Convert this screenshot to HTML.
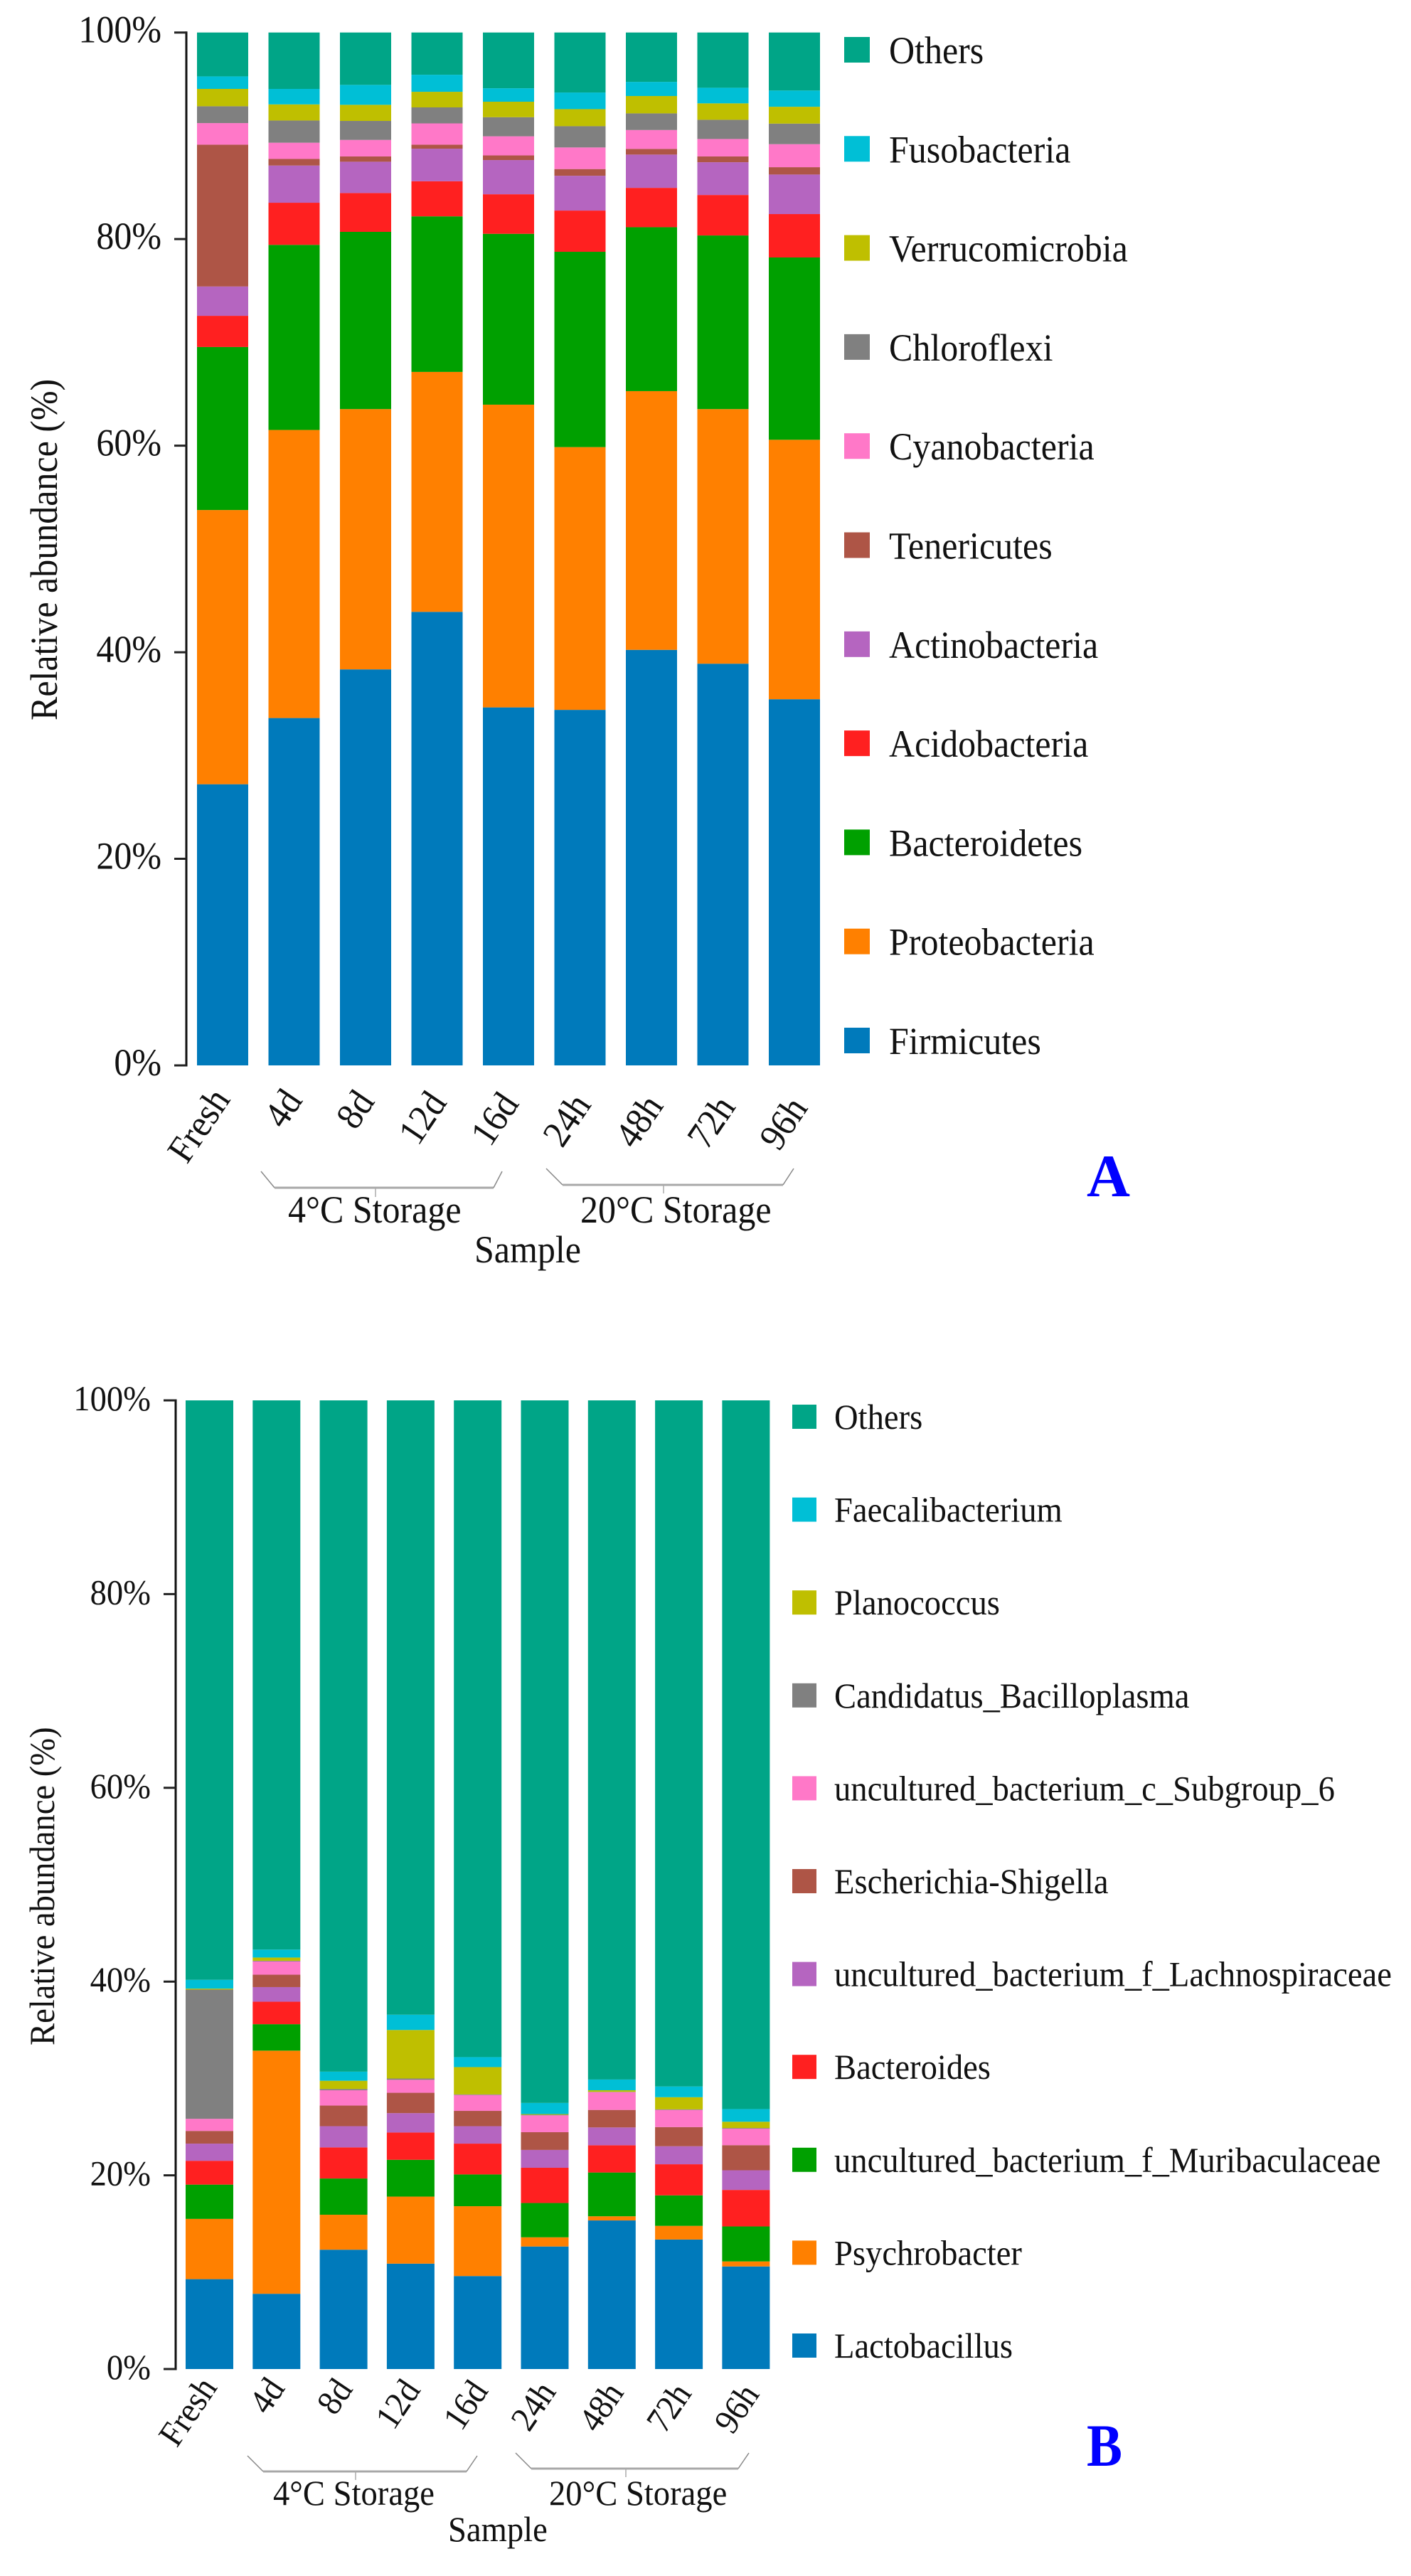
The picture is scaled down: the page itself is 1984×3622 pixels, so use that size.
<!DOCTYPE html>
<html lang="en">
<head>
<meta charset="utf-8">
<title>Relative abundance of bacterial phyla and genera</title>
<style>
html,body{margin:0;padding:0;background:#fff;}
svg{display:block;}
text{font-family:"Liberation Serif","Times New Roman",serif;fill:#111;}
</style>
</head>
<body>
<svg id="figure" xmlns="http://www.w3.org/2000/svg" width="1984" height="3622" viewBox="0 0 1984 3622"></svg>
<script>
const sampleLabels = ['Fresh', '4d', '8d', '12d', '16d', '24h', '48h', '72h', '96h'];
const yTickValues = [0, 20, 40, 60, 80, 100];
const yTickLabels = ['0%', '20%', '40%', '60%', '80%', '100%'];

/* Panel A: phylum-level abundance (%) */
const phylumNames = ['Firmicutes', 'Proteobacteria', 'Bacteroidetes', 'Acidobacteria', 'Actinobacteria', 'Tenericutes', 'Cyanobacteria', 'Chloroflexi', 'Verrucomicrobia', 'Fusobacteria', 'Others'];
const firmicutes = [27.22, 33.63, 38.34, 43.91, 34.66, 34.42, 40.23, 38.89, 35.45];
const proteobacteria = [26.55, 27.89, 25.20, 23.23, 29.31, 25.44, 25.05, 24.65, 25.12];
const bacteroidetes = [15.78, 17.92, 17.16, 15.06, 16.54, 18.91, 15.87, 16.81, 17.65];
const acidobacteria = [3.02, 4.08, 3.76, 3.40, 3.83, 3.99, 3.81, 3.92, 4.20];
const actinobacteria = [2.84, 3.60, 3.03, 3.15, 3.31, 3.37, 3.22, 3.17, 3.83];
const tenericutes = [13.73, 0.64, 0.51, 0.39, 0.45, 0.65, 0.55, 0.56, 0.71];
const cyanobacteria = [2.09, 1.57, 1.60, 2.06, 1.85, 2.09, 1.83, 1.69, 2.23];
const chloroflexi = [1.63, 2.15, 1.84, 1.55, 1.85, 2.06, 1.61, 1.86, 1.99];
const verrucomicrobia = [1.68, 1.56, 1.56, 1.51, 1.50, 1.65, 1.68, 1.59, 1.63];
const fusobacteria = [1.21, 1.50, 1.93, 1.65, 1.30, 1.61, 1.37, 1.51, 1.57];
const othersPhylum = [4.25, 5.46, 5.07, 4.09, 5.40, 5.81, 4.78, 5.35, 5.62];
const phylumSeries = [firmicutes, proteobacteria, bacteroidetes, acidobacteria, actinobacteria, tenericutes, cyanobacteria, chloroflexi, verrucomicrobia, fusobacteria, othersPhylum];

/* Panel B: genus-level abundance (%) */
const genusNames = ['Lactobacillus', 'Psychrobacter', 'uncultured_bacterium_f_Muribaculaceae', 'Bacteroides', 'uncultured_bacterium_f_Lachnospiraceae', 'Escherichia-Shigella', 'uncultured_bacterium_c_Subgroup_6', 'Candidatus_Bacilloplasma', 'Planococcus', 'Faecalibacterium', 'Others'];
const lactobacillus = [9.28, 7.77, 12.32, 10.88, 9.60, 12.65, 15.34, 13.37, 10.59];
const psychrobacter = [6.22, 25.10, 3.61, 6.92, 7.21, 0.95, 0.43, 1.41, 0.52];
const muribaculaceae = [3.54, 2.73, 3.74, 3.80, 3.28, 3.54, 4.52, 3.15, 3.61];
const bacteroides = [2.46, 2.32, 3.21, 2.82, 3.18, 3.64, 2.81, 3.21, 3.77];
const lachnospiraceae = [1.77, 1.51, 2.19, 2.00, 1.80, 1.84, 1.84, 1.86, 2.03];
const escherichia = [1.31, 1.28, 2.13, 2.10, 1.58, 1.83, 1.81, 1.98, 2.59];
const subgroup6 = [1.25, 1.37, 1.58, 1.34, 1.64, 1.74, 1.83, 1.77, 1.70];
const bacilloplasma = [13.34, 0.07, 0.13, 0.13, 0.06, 0.06, 0.04, 0.06, 0.07];
const planococcus = [0.10, 0.33, 0.85, 5.01, 2.82, 0.07, 0.16, 1.25, 0.65];
const faecalibacterium = [0.91, 0.82, 0.94, 1.58, 1.03, 1.15, 1.11, 1.11, 1.31];
const othersGenus = [59.82, 56.70, 69.30, 63.42, 67.80, 72.53, 70.11, 70.83, 73.16];
const genusSeries = [lactobacillus, psychrobacter, muribaculaceae, bacteroides, lachnospiraceae, escherichia, subgroup6, bacilloplasma, planococcus, faecalibacterium, othersGenus];

const palette = ['#007abb', '#ff8000', '#00a000', '#ff2020', '#b565c0', '#ae5546', '#ff78c8', '#808080', '#bfbf00', '#00bfd6', '#00a587'];

const NS = 'http://www.w3.org/2000/svg';
const figure = document.getElementById('figure');
const TEXT_STRETCH = 1.07;

function slug(s) {
  return String(s).toLowerCase().replace(/[^a-z0-9]+/g, '-').replace(/^-|-$/g, '');
}
function makeLine(parent, x1, y1, x2, y2, stroke, width) {
  const el = document.createElementNS(NS, 'line');
  el.setAttribute('x1', x1);
  el.setAttribute('y1', y1);
  el.setAttribute('x2', x2);
  el.setAttribute('y2', y2);
  el.setAttribute('stroke', stroke);
  el.setAttribute('stroke-width', width);
  parent.appendChild(el);
  return el;
}
function makeText(parent, str, x, y, size, anchor, angle) {
  const el = document.createElementNS(NS, 'text');
  el.textContent = str;
  el.setAttribute('font-size', size);
  el.setAttribute('text-anchor', anchor);
  el.setAttribute('transform', 'translate(' + x + ' ' + y + ') rotate(' + angle + ') scale(1 ' + TEXT_STRETCH + ')');
  parent.appendChild(el);
  return el;
}
function makeGroup(parent) {
  const el = document.createElementNS(NS, 'g');
  parent.appendChild(el);
  return el;
}

function drawChart(c, names, series) {
  const yScale = function (v) { return c.y0 - v * (c.y0 - c.y100) / 100; };
  const xScale = function (i) { return c.barX + i * c.barPitch; };

  const panel = makeGroup(figure);
  
  

  /* bars */
  const bars = makeGroup(panel);
  
  
  sampleLabels.forEach(function (sample, i) {
    let cum = 0;
    series.forEach(function (values, s) {
      const top = yScale(cum + values[i]);
      const bottom = yScale(cum);
      const rect = document.createElementNS(NS, 'rect');
      rect.setAttribute('x', xScale(i));
      rect.setAttribute('y', top);
      rect.setAttribute('width', c.barW);
      rect.setAttribute('height', Math.max(0, bottom - top));
      rect.setAttribute('fill', palette[s]);
      
      
      bars.appendChild(rect);
      cum += values[i];
    });
  });

  /* y axis */
  const yAxis = makeGroup(panel);
  
  
  const axisLine = makeLine(yAxis, c.axisX, c.y100 - 1.5, c.axisX, c.y0 + 1.5, '#111', 3);
  
  
  yTickValues.forEach(function (v, i) {
    const tick = makeLine(yAxis, c.axisX - 17, yScale(v), c.axisX, yScale(v), '#222', 3);
    
    
    const label = makeText(yAxis, yTickLabels[i], c.axisX - 35, yScale(v) + 14, c.fontSize, 'end', 0);
    
    
  });
  const yTitle = makeText(panel, 'Relative abundance (%)', c.titleX, c.titleY, c.fontSize, 'start', -90);
  
  

  /* x tick labels */
  const xLabels = makeGroup(panel);
  
  
  sampleLabels.forEach(function (sample, i) {
    const t = makeText(xLabels, sample, xScale(i) + c.barW / 2 + c.xLabelDx + i * c.xLabelDriftX, c.xLabelY + i * c.xLabelDrift, c.fontSize, 'end', -56);
    
    
  });

  /* brackets + group labels */
  c.groups.forEach(function (g) {
    const grp = makeGroup(panel);
    
    
    makeLine(grp, g.x1, g.top, g.x2, g.bottom, '#888', 1.5);
    makeLine(grp, g.x2, g.bottom, g.x3, g.bottom, '#a8a8a8', 3);
    makeLine(grp, g.x3, g.bottom, g.x4, g.top, '#888', 1.5);
    makeLine(grp, g.stem, g.bottom, g.stem, g.stemEnd, '#aaa', 1.5);
    const lab = makeText(panel, g.text, g.textX, c.groupLabelY, c.fontSize, 'start', 0);
    
    
  });

  const xTitle = makeText(panel, 'Sample', c.sampleX, c.sampleY, c.fontSize, 'start', 0);
  
  

  /* legend: top entry is the top of the stack */
  const legend = makeGroup(panel);
  
  
  for (let s = names.length - 1; s >= 0; s--) {
    const row = names.length - 1 - s;
    const cy = c.legendY + row * c.legendPitch;
    const entry = makeGroup(legend);
    
    
    const swatch = document.createElementNS(NS, 'rect');
    swatch.setAttribute('x', c.legendX);
    swatch.setAttribute('y', cy - c.swatch / 2);
    swatch.setAttribute('width', c.swatch);
    swatch.setAttribute('height', c.swatch);
    swatch.setAttribute('fill', palette[s]);
    
    
    entry.appendChild(swatch);
    const lt = makeText(entry, names[s], c.legendTextX, cy + c.legendBase, c.fontSize, 'start', 0);
    
    
  }

  /* panel letter */
  const letter = document.createElementNS(NS, 'text');
  letter.textContent = c.letter;
  letter.setAttribute('x', c.letterX);
  letter.setAttribute('y', c.letterY);
  letter.setAttribute('font-size', 85);
  letter.setAttribute('font-weight', 'bold');
  letter.setAttribute('textLength', c.letterW);
  letter.setAttribute('lengthAdjust', 'spacingAndGlyphs');
  letter.style.fill = '#0000ff';
  
  
  panel.appendChild(letter);
}

drawChart({
  id: 'a', letter: 'A', letterX: 1528, letterY: 1682, letterW: 61,
  y0: 1498, y100: 45.7, barX: 277, barPitch: 100.5, barW: 72, axisX: 262,
  fontSize: 50, titleX: 80, titleY: 1013,
  xLabelDx: 12, xLabelDriftX: 1, xLabelY: 1546, xLabelDrift: 1.5,
  groupLabelY: 1719, sampleX: 667, sampleY: 1775,
  legendX: 1187, legendY: 70, legendPitch: 139.3, swatch: 36, legendTextX: 1250, legendBase: 19,
  groups: [
    { text: '4\u00b0C Storage', textX: 405, x1: 367, x2: 386, x3: 694, x4: 706, top: 1647, bottom: 1670, stem: 528, stemEnd: 1683 },
    { text: '20\u00b0C Storage', textX: 816, x1: 768, x2: 791, x3: 1101, x4: 1116, top: 1643, bottom: 1666, stem: 933, stemEnd: 1678 }
  ]
}, phylumNames, phylumSeries);

drawChart({
  id: 'b', letter: 'B', letterX: 1528, letterY: 3467, letterW: 50,
  y0: 3331, y100: 1969, barX: 261, barPitch: 94.3, barW: 67, axisX: 247,
  fontSize: 46.6, titleX: 76, titleY: 2876,
  xLabelDx: 12, xLabelDriftX: 1, xLabelY: 3357, xLabelDrift: 1.2,
  groupLabelY: 3522, sampleX: 630, sampleY: 3573,
  legendX: 1114, legendY: 1992, legendPitch: 130.6, swatch: 34, legendTextX: 1173, legendBase: 17,
  groups: [
    { text: '4\u00b0C Storage', textX: 384, x1: 348, x2: 370, x3: 656, x4: 671, top: 3453, bottom: 3475, stem: 500, stemEnd: 3487 },
    { text: '20\u00b0C Storage', textX: 772, x1: 725, x2: 747, x3: 1038, x4: 1053, top: 3449, bottom: 3471, stem: 880, stemEnd: 3483 }
  ]
}, genusNames, genusSeries);
</script>
</body>
</html>
